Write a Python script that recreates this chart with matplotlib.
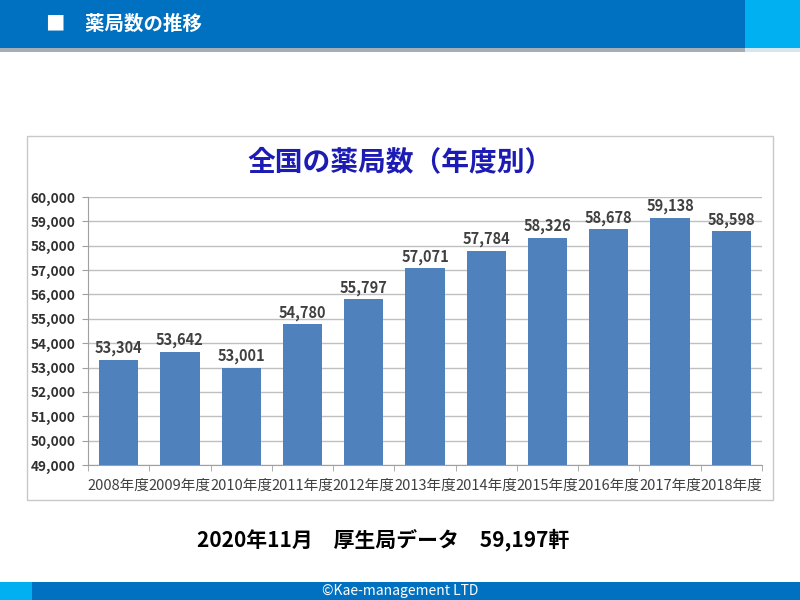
import matplotlib
matplotlib.use('Agg')
import matplotlib.pyplot as plt
from matplotlib.patches import Rectangle
from matplotlib.ticker import FuncFormatter
import numpy as np

plt.rcParams['font.family'] = ['Noto Sans CJK JP', 'DejaVu Sans']

years = ['2008年度', '2009年度', '2010年度', '2011年度', '2012年度', '2013年度',
         '2014年度', '2015年度', '2016年度', '2017年度', '2018年度']
counts = [53304, 53642, 53001, 54780, 55797, 57071, 57784, 58326, 58678, 59138, 58598]

page_title = '■　薬局数の推移'
chart_title = '全国の薬局数（年度別）'
note = '2020年11月　厚生局データ　59,197軒'
footer = '©Kae-management LTD'

W, H = 800, 600
fig = plt.figure(figsize=(8, 6), dpi=100)
fig.patch.set_facecolor('white')


def box(x0, y0, x1, y1, **kw):
    # pixel coords, y measured from top
    fig.patches.append(Rectangle((x0 / W, 1 - y1 / H), (x1 - x0) / W, (y1 - y0) / H,
                                 transform=fig.transFigure, zorder=-1, **kw))


# header band
box(0, 0, 745, 48, facecolor='#0070C0', edgecolor='none')
box(745, 0, 800, 48, facecolor='#00B0F0', edgecolor='none')
box(0, 48, 745, 52, facecolor='#A5ADB5', edgecolor='none')
box(745, 48, 800, 52, facecolor='#D6E6F0', edgecolor='none')
fig.text(46 / W, 1 - 24 / H, page_title, color='white', fontsize=14,
         fontweight='bold', va='center', ha='left')

# chart frame
box(27, 136, 773, 500, facecolor='none', edgecolor='#C8C8C8', linewidth=1.0)
fig.text(400 / W, 1 - 162 / H, chart_title, color='#1C1CB4', fontsize=20,
         fontweight='bold', va='center', ha='center')

# footer band
box(0, 582, 32, 600, facecolor='#00B0F0', edgecolor='none')
box(32, 582, 800, 600, facecolor='#0070C0', edgecolor='none')
fig.text(400 / W, 1 - 591 / H, footer, color='white', fontsize=10,
         va='center', ha='center')

fig.text(383 / W, 1 - 540 / H, note, color='black', fontsize=15,
         fontweight='bold', va='center', ha='center')

# bar chart
ax = fig.add_axes([88 / W, 1 - 465 / H, 674 / W, 268 / H])
ax.set_zorder(2)
ax.patch.set_alpha(0)
x = np.arange(len(years))
bars = ax.bar(x, counts, width=0.64, color='#4F81BD', zorder=3)
for xi, v in zip(x, counts):
    ax.text(xi, v + 150, f'{v:,}', ha='center', va='bottom', fontsize=10.5,
            fontweight='bold', color='#404040', zorder=4)

ax.set_ylim(49000, 60000)
ax.set_xlim(-0.5, len(years) - 0.5)
ax.set_yticks(np.arange(49000, 60001, 1000))
ax.yaxis.set_major_formatter(FuncFormatter(lambda v, _: f'{int(v):,}'))
ax.set_xticks(x)
ax.set_xticklabels(years, fontsize=10.5, color='#404040')
for lbl in ax.get_yticklabels():
    lbl.set_fontweight('bold')
    lbl.set_fontsize(9.8)
    lbl.set_color('#303030')
ax.grid(axis='y', color='#C0C0C0', linewidth=1.0, zorder=0)
ax.set_axisbelow(True)
for s in ['top', 'right']:
    ax.spines[s].set_visible(False)
ax.spines['left'].set_color('#A0A0A0')
ax.spines['bottom'].set_color('#A0A0A0')
ax.tick_params(axis='y', length=4, color='#A0A0A0', pad=5)
ax.tick_params(axis='x', length=0, pad=10)
# small ticks between categories
ax.set_xticks(np.arange(-0.5, len(years), 1.0), minor=True)
ax.tick_params(axis='x', which='minor', length=4, color='#A0A0A0')

fig.savefig('out.png', dpi=100)
